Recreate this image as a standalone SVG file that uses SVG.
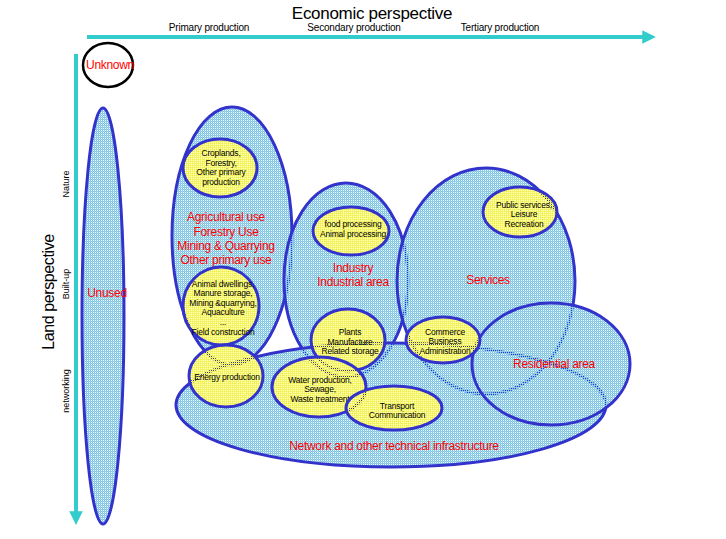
<svg xmlns="http://www.w3.org/2000/svg" width="726" height="539" viewBox="0 0 726 539">
<defs>
<pattern id="blue" patternUnits="userSpaceOnUse" x="0" y="0" width="2" height="2">
<rect x="0" y="0" width="1" height="1" fill="#66ccf5"/>
<rect x="1" y="1" width="1" height="1" fill="#66ccf5"/>
<rect x="0" y="1" width="1" height="1" fill="#c4c8cc"/>
</pattern>
<pattern id="yellow" patternUnits="userSpaceOnUse" x="0" y="0" width="2" height="2">
<rect x="0" y="0" width="1" height="1" fill="#ffff22"/>
<rect x="1" y="1" width="1" height="1" fill="#ffff22"/>
<rect x="0" y="1" width="1" height="1" fill="#e4e4a8"/>
</pattern>
<marker id="ah" viewBox="0 0 10 10" refX="2" refY="5" markerWidth="3.4" markerHeight="3.6" orient="auto" markerUnits="strokeWidth">
<path d="M0,0 L10,5 L0,10 z" fill="#33cccc"/>
</marker>
<style>
.big{fill:url(#blue);stroke:#3333cc;stroke-width:3}
.small{fill:url(#yellow);stroke:#3333cc;stroke-width:3}
.red{font-family:"Liberation Sans",Arial,sans-serif;font-size:12px;fill:#ff0000;text-anchor:middle;letter-spacing:-0.3px}
.blk{font-family:"Liberation Sans",Arial,sans-serif;font-size:8.5px;fill:#000;text-anchor:middle;letter-spacing:-0.2px}
.ax{font-family:"Liberation Sans",Arial,sans-serif;fill:#000;text-anchor:middle}
.axis{stroke:#33cccc;stroke-width:4;fill:none}
</style>
</defs>
<rect width="726" height="539" fill="#ffffff"/>

<g id="connectors">
<line class="axis" x1="87" y1="37" x2="645" y2="37" marker-end="url(#ah)"/>
<line class="axis" x1="76" y1="54" x2="76" y2="514" marker-end="url(#ah)"/>
</g>

<g id="labels">
<text class="ax" x="372" y="19" font-size="17" letter-spacing="-0.3">Economic perspective</text>
<text class="ax" x="209" y="31" font-size="10" letter-spacing="-0.2">Primary production</text>
<text class="ax" x="354" y="31" font-size="10" letter-spacing="-0.2">Secondary production</text>
<text class="ax" x="500" y="31" font-size="10" letter-spacing="-0.2">Tertiary production</text>
<text class="ax" transform="translate(54,292) rotate(-90)" font-size="16" letter-spacing="-0.4">Land perspective</text>
<text class="ax" transform="translate(69,184) rotate(-90)" font-size="9">Nature</text>
<text class="ax" transform="translate(69,284) rotate(-90)" font-size="9">Built-up</text>
<text class="ax" transform="translate(69,391) rotate(-90)" font-size="9">networking</text>
</g>

<g id="unknown">
<ellipse cx="108" cy="65" rx="25" ry="22" fill="none" stroke="#000" stroke-width="2.5"/>
<text class="red" x="110" y="69" font-size="11">Unknown</text>
</g>

<g id="unused">
<ellipse class="big" cx="103" cy="316" rx="21" ry="208"/>
<text class="red" x="107" y="297" font-size="11.5">Unused</text>
</g>

<g id="agricultural">
<ellipse class="big" cx="232" cy="236" rx="60" ry="129"/>
<text class="red" x="226" y="221">Agricultural use</text>
<text class="red" x="226" y="236">Forestry Use</text>
<text class="red" x="226" y="250">Mining &amp; Quarrying</text>
<text class="red" x="226" y="264">Other primary use</text>
</g>

<g id="industry">
<ellipse class="big" cx="346" cy="280" rx="62" ry="97"/>
<text class="red" x="353" y="272">Industry</text>
<text class="red" x="353" y="286">Industrial area</text>
</g>

<g id="services">
<ellipse class="big" cx="486" cy="281" rx="89" ry="113"/>
<text class="red" x="488" y="284">Services</text>
</g>

<g id="network">
<ellipse class="big" cx="391" cy="405" rx="215" ry="62"/>
<text class="red" x="394" y="450">Network and other technical infrastructure</text>
</g>

<g id="residential">
<ellipse class="big" cx="551" cy="364" rx="79" ry="61"/>
<text class="red" x="554" y="368">Residential area</text>
</g>

<g id="croplands">
<ellipse class="small" cx="220" cy="168" rx="37" ry="29"/>
<text class="blk" x="221" y="156">Croplands,</text>
<text class="blk" x="221" y="166">Forestry,</text>
<text class="blk" x="221" y="175">Other primary</text>
<text class="blk" x="221" y="185">production</text>
</g>

<g id="animal">
<ellipse class="small" cx="221" cy="306" rx="38" ry="39"/>
<text class="blk" x="223" y="287">Animal dwellings,</text>
<text class="blk" x="223" y="296">Manure storage,</text>
<text class="blk" x="223" y="306">Mining &amp;quarrying,</text>
<text class="blk" x="223" y="315">Aquaculture</text>
<text class="blk" x="223" y="325">...</text>
<text class="blk" x="223" y="335">Field construction</text>
</g>

<g id="energy">
<ellipse class="small" cx="226" cy="376" rx="37" ry="31"/>
<text class="blk" x="227" y="380">Energy production</text>
</g>

<g id="food">
<ellipse class="small" cx="351" cy="231" rx="38" ry="24"/>
<text class="blk" x="353" y="227">food processing</text>
<text class="blk" x="353" y="237">Animal processing</text>
</g>

<g id="plants">
<ellipse class="small" cx="348" cy="340" rx="37" ry="31"/>
<text class="blk" x="350" y="335">Plants</text>
<text class="blk" x="350" y="345">Manufacture</text>
<text class="blk" x="350" y="354">Related storage</text>
</g>

<g id="public">
<ellipse class="small" cx="520" cy="212" rx="37" ry="25"/>
<text class="blk" x="524" y="208">Public services,</text>
<text class="blk" x="524" y="217">Leisure</text>
<text class="blk" x="524" y="227">Recreation</text>
</g>

<g id="commerce">
<ellipse class="small" cx="443" cy="340" rx="37" ry="23"/>
<text class="blk" x="445" y="335">Commerce</text>
<text class="blk" x="445" y="344">Business</text>
<text class="blk" x="445" y="354">Administration</text>
</g>

<g id="water">
<ellipse class="small" cx="319" cy="387" rx="47" ry="30"/>
<text class="blk" x="320" y="383">Water production,</text>
<text class="blk" x="320" y="392">Sewage,</text>
<text class="blk" x="320" y="402">Waste treatment</text>
</g>

<g id="transport">
<ellipse class="small" cx="394" cy="408" rx="48" ry="22"/>
<text class="blk" x="397" y="409">Transport</text>
<text class="blk" x="397" y="418">Communication</text>
</g>
</svg>
